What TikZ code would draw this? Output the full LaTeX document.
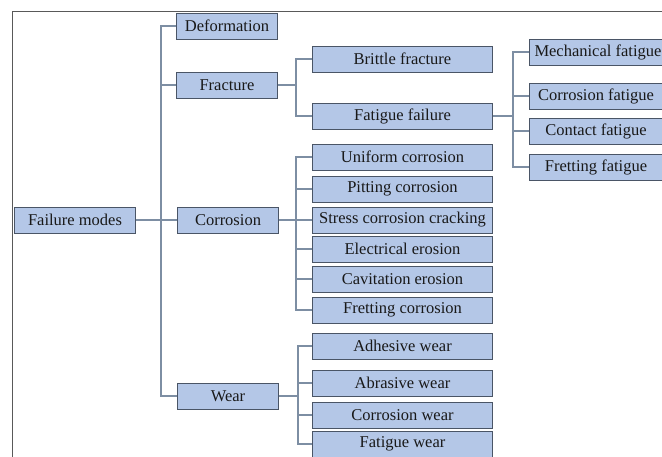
\documentclass[tikz,border=0pt]{standalone}
\usepackage{fontspec}
\setmainfont{Liberation Serif}
\usetikzlibrary{
  positioning,
  calc,
}
\definecolor{boxfill}{HTML}{B4C7E7}
\definecolor{boxline}{HTML}{4A5566}
\definecolor{linkline}{HTML}{7D8EA3}
\def\myboxheight{26pt}
\tikzset{
  x=1pt,
  y=-1pt,
  my box/.style={
    draw=boxline,
    fill=boxfill,
    line width=1pt,
    minimum height=\myboxheight,
    inner sep=0pt,
    anchor=west,
    font=\fontsize{16.5}{19}\selectfont,
    text=black!90
  },
  lvl root/.style={my box, minimum width=121pt},
  lvl one/.style={my box, minimum width=101pt},
  lvl two/.style={my box, minimum width=180pt},
  lvl three/.style={my box, minimum width=133pt},
  link/.style={
    draw=linkline,
    line width=1.2pt
  },
  frame/.style={
    draw=black!65,
    line width=1pt
  }
}

\begin{document}
\begin{tikzpicture}
\useasboundingbox (0,0) rectangle (662,456);
\clip (0,0) rectangle (662,456);
\draw[frame] (12,470) |- (680,11);
% root and first level
\node[lvl root]  (root) at (14,220)  {Failure modes};
\node[lvl one]   (def)  at (176,26)  {Deformation};
\node[lvl one]   (fra)  at (176,85)  {Fracture};
\node[lvl one]   (cor)  at (177,220) {Corrosion};
\node[lvl one]   (wea)  at (177,396) {Wear};
% fracture
\node[lvl two]   (bri)  at (312,59)  {Brittle fracture};
\node[lvl two]   (fat)  at (312,116) {Fatigue failure};
% fatigue failure
\node[lvl three, minimum width=0pt, inner xsep=5pt] (mec) at (529,52) {Mechanical fatigue};
\node[lvl three] (cfa)  at (529,96)  {Corrosion fatigue};
\node[lvl three] (con)  at (529,131) {Contact fatigue};
\node[lvl three] (fre)  at (529,167) {Fretting fatigue};
% corrosion
\node[lvl two]   (uni)  at (312,157) {Uniform corrosion};
\node[lvl two]   (pit)  at (312,189) {Pitting corrosion};
\node[lvl two]   (scc)  at (312,220) {Stress corrosion cracking};
\node[lvl two]   (ele)  at (312,249) {Electrical erosion};
\node[lvl two]   (cav)  at (312,279) {Cavitation erosion};
\node[lvl two]   (frc)  at (312,310) {Fretting corrosion};
% wear
\node[lvl two]   (adh)  at (312,346) {Adhesive wear};
\node[lvl two]   (abr)  at (312,383) {Abrasive wear};
\node[lvl two]   (cwe)  at (312,415) {Corrosion wear};
\node[lvl two]   (fwe)  at (312,444) {Fatigue wear};
% connectors
\foreach \c in {def,fra,cor,wea}
  \draw[link] (root.east) -- ++(25,0) |- (\c.west);
\foreach \c in {bri,fat}
  \draw[link] (fra.east) -- ++(18,0) |- (\c.west);
\foreach \c in {mec,cfa,con,fre}
  \draw[link] (fat.east) -- ++(20,0) |- (\c.west);
\foreach \c in {uni,pit,scc,ele,cav,frc}
  \draw[link] (cor.east) -- ++(17,0) |- (\c.west);
\foreach \c in {adh,abr,cwe,fwe}
  \draw[link] (wea.east) -- ++(19,0) |- (\c.west);
\end{tikzpicture}
\end{document}
